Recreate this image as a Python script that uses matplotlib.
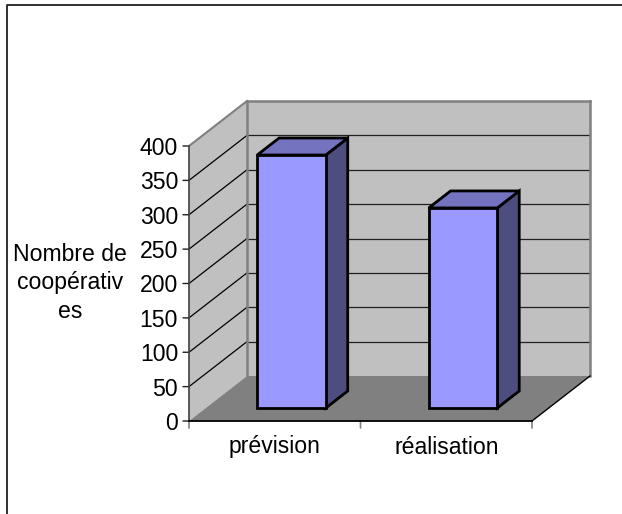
import matplotlib
matplotlib.use("Agg")
import matplotlib.pyplot as plt
from matplotlib.patches import Polygon

plt.rcParams["font.family"] = ["Liberation Sans", "DejaVu Sans"]

categories = ["prévision", "réalisation"]
values = [368, 291]
y_ticks = [0, 50, 100, 150, 200, 250, 300, 350, 400]
y_label_lines = "Nombre de\ncoopérativ\nes"

WALL = "#C0C0C0"
FLOOR = "#808080"
EDGE = "#808080"
BAR_FRONT = "#9999FF"
BAR_TOP = "#7373BF"
BAR_SIDE = "#4D4D80"

W, H = 622, 514
fig = plt.figure(figsize=(W / 100, H / 100), dpi=100, facecolor="white")

# Front plane of the oblique 3D box, in figure pixels
x0, x1, ytop, ybot = 189, 532, 146, 421
ax = fig.add_axes([x0 / W, 1 - ybot / H, (x1 - x0) / W, (ybot - ytop) / H])
ax.set_xlim(0, len(categories))
ax.set_ylim(0, 400)
ax.axis("off")

# Depth vector of the box, expressed in category and value units
DX = 58 / ((x1 - x0) / len(categories))
DY = 45 / ((ybot - ytop) / 400)


def pt(x, y, d=0.0):
    """Oblique projection of a point at depth d (0 = front, 1 = back)."""
    return (x + d * DX, y + d * DY)


def face(points, **kw):
    ax.add_patch(Polygon(points, closed=True, clip_on=False, **kw))


def line(a, b, **kw):
    ax.plot([a[0], b[0]], [a[1], b[1]], clip_on=False,
            solid_capstyle="projecting", **kw)


n = len(categories)

# Walls and floor
face([pt(0, 0, 1), pt(n, 0, 1), pt(n, 400, 1), pt(0, 400, 1)], fc=WALL, ec="none", zorder=1)
face([pt(0, 0), pt(0, 0, 1), pt(0, 400, 1), pt(0, 400)], fc=WALL, ec="none", zorder=1)
face([pt(0, 0), pt(n, 0), pt(n, 0, 1), pt(0, 0, 1)], fc=FLOOR, ec="none", zorder=2)

# Gridlines on the side and back walls
for v in y_ticks[1:-1]:
    line(pt(0, v), pt(0, v, 1), color="black", lw=0.9, zorder=3)
    line(pt(0, v, 1), pt(n, v, 1), color="#202020", lw=0.9, zorder=3)

# Wall outlines
line(pt(0, 400), pt(0, 400, 1), color=EDGE, lw=1.5, zorder=4)
line(pt(0, 400, 1), pt(n, 400, 1), color=EDGE, lw=1.8, zorder=4)
line(pt(n, 400, 1), pt(n, 0, 1), color=EDGE, lw=1.8, zorder=4)
line(pt(0, 400, 1), pt(0, 0, 1), color=EDGE, lw=1.8, zorder=4)

# Bars: three visible faces of each box
BAR_W = 0.40
D0, D1 = 13 / 45, 30 / 45
for i, v in enumerate(values):
    l, r = i + 0.5 - BAR_W / 2, i + 0.5 + BAR_W / 2
    style = dict(ec="black", lw=2, joinstyle="miter", zorder=6)
    face([pt(r, 0, D0), pt(r, 0, D1), pt(r, v, D1), pt(r, v, D0)], fc=BAR_SIDE, **style)
    face([pt(l, v, D0), pt(r, v, D0), pt(r, v, D1), pt(l, v, D1)], fc=BAR_TOP, **style)
    face([pt(l, 0, D0), pt(r, 0, D0), pt(r, v, D0), pt(l, v, D0)], fc=BAR_FRONT, **style)

# Value axis with its ticks and labels
line(pt(0, 0), pt(0, 400), color="#404040", lw=1.2, zorder=7)
for v in y_ticks:
    ax.annotate("", xy=(0, v), xytext=(-6, 0), textcoords="offset pixels",
                xycoords="data", annotation_clip=False,
                arrowprops=dict(arrowstyle="-", color="#202020", lw=1, shrinkA=0, shrinkB=0))
    ax.annotate(str(v), xy=(0, v), xytext=(-11, 0),
                textcoords="offset pixels", ha="right", va="center_baseline",
                fontsize=16.6, color="black", annotation_clip=False)

# Base edges of the floor
line(pt(0, 0), pt(n, 0), color="black", lw=1.3, zorder=7)
line(pt(n, 0), pt(n, 0, 1), color="black", lw=1, zorder=7)

# Category ticks and labels
for t in range(n + 1):
    ax.annotate("", xy=(t, 0), xytext=(0, -7), textcoords="offset pixels",
                annotation_clip=False,
                arrowprops=dict(arrowstyle="-", color=EDGE, lw=1.2, shrinkA=0, shrinkB=0))
for i, c in enumerate(categories):
    ax.annotate(c, xy=(i + 0.5, 0), xytext=(0, -26), textcoords="offset pixels",
                ha="center", va="center", fontsize=16.6, color="black",
                annotation_clip=False)

# Axis title
fig.text(70 / W, 1 - 283 / H, y_label_lines, ha="center", va="center",
         fontsize=16.6, color="black", linespacing=1.32)

# Frame of the chart area: only the top and left edges fall inside the image
fig.add_artist(plt.Line2D([7 / W, 7 / W, 1], [0, 1 - 4.5 / H, 1 - 4.5 / H],
                          color="#202020", lw=1.3, transform=fig.transFigure))

fig.savefig("out.png", dpi=100, facecolor="white")
